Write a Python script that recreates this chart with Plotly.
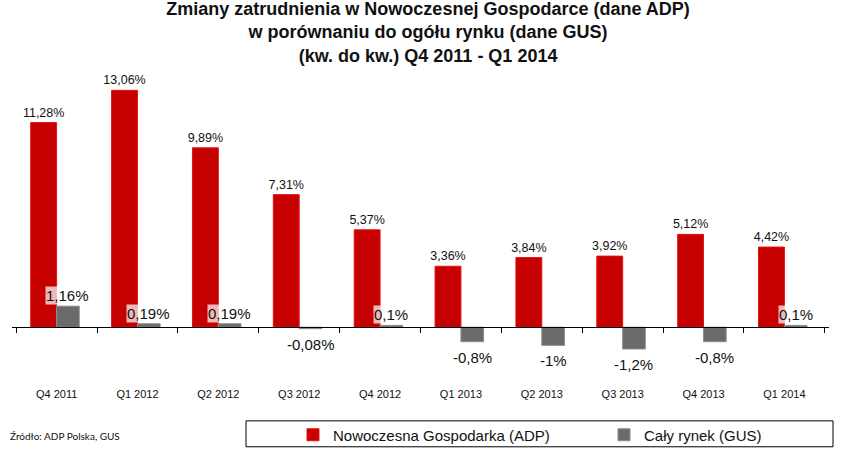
import plotly.graph_objects as go

categories = ["Q4 2011", "Q1 2012", "Q2 2012", "Q3 2012", "Q4 2012",
              "Q1 2013", "Q2 2013", "Q3 2013", "Q4 2013", "Q1 2014"]
adp_values = [11.28, 13.06, 9.89, 7.31, 5.37, 3.36, 3.84, 3.92, 5.12, 4.42]
adp_labels = ["11,28%", "13,06%", "9,89%", "7,31%", "5,37%", "3,36%", "3,84%", "3,92%", "5,12%", "4,42%"]
gus_values = [1.16, 0.19, 0.19, -0.08, 0.1, -0.8, -1.0, -1.2, -0.8, 0.1]
gus_labels = ["1,16%", "0,19%", "0,19%", "-0,08%", "0,1%", "-0,8%", "-1%", "-1,2%", "-0,8%", "0,1%"]

title_text = ("Zmiany zatrudnienia w Nowoczesnej Gospodarce (dane ADP)<br>"
              "w porównaniu do ogółu rynku (dane GUS)<br>"
              "(kw. do kw.) Q4 2011 - Q1 2014")
source_text = "Źródło: ADP Polska, GUS"
series_names = ["Nowoczesna Gospodarka (ADP)", "Cały rynek (GUS)"]

YMIN, YMAX = -3.02, 13.63
RED_W, GREY_W = 0.32, 0.28
L, T, PW, PH = 12, 80, 817, 303   # plot area in pixels

fig = go.Figure()

fig.add_trace(go.Bar(
    x=categories, y=adp_values, name=series_names[0], legend="legend",
    width=RED_W, offset=-RED_W,
    marker=dict(color="#C60000", line=dict(color="#E81010", width=1)),
    text=adp_labels, textposition="outside", cliponaxis=False,
    textangle=0, constraintext="none",
    textfont=dict(family="Liberation Sans, Arial", size=12.5, color="#111111"),
))
fig.add_trace(go.Bar(
    x=categories, y=gus_values, name=series_names[1], legend="legend2",
    width=GREY_W, offset=0,
    marker=dict(color="#6A6A6A", line=dict(color="#8C8C8C", width=1)),
    cliponaxis=False,
))
# helper trace so the zero-line axis knows the categories
fig.add_trace(go.Scatter(
    x=categories, y=[0] * len(categories), xaxis="x2", mode="markers",
    marker=dict(opacity=0), showlegend=False, hoverinfo="skip",
))

annotations = []
for i, (v, lab) in enumerate(zip(gus_values, gus_labels)):
    annotations.append(dict(
        x=i + GREY_W / 2, y=v, xref="x", yref="y", text=lab, showarrow=False,
        yanchor="bottom" if v >= 0 else "top", yshift=1 if v >= 0 else -6,
        font=dict(family="Liberation Sans, Arial", size=15, color="#111111"),
        bgcolor="rgba(255,255,255,0.72)", borderpad=0,
    ))
annotations.append(dict(
    x=(8 - L) / PW, y=(T + PH - 437) / PH, xref="paper", yref="paper",
    text=source_text, showarrow=False, xanchor="left", yanchor="middle",
    font=dict(family="Lato, Liberation Sans", size=10, color="#111111"),
))

zero_pos = (0 - YMIN) / (YMAX - YMIN)
legend_font = dict(family="Liberation Sans, Arial", size=15, color="#111111")
legend_y = (T + PH - 435) / PH

fig.update_layout(
    width=851, height=462,
    margin=dict(l=L, r=851 - L - PW, t=T, b=462 - T - PH),
    paper_bgcolor="white", plot_bgcolor="white",
    title=dict(text=title_text, x=0.503, xref="container", xanchor="center",
               y=0.968, yref="container", yanchor="top",
               font=dict(family="Liberation Sans Narrow, Arial Narrow, Liberation Sans",
                         size=18, color="#111111", weight="bold")),
    xaxis=dict(type="category", categoryarray=categories, showline=False,
               ticks="", showgrid=False, zeroline=False,
               tickfont=dict(family="Liberation Sans, Arial", size=11, color="#111111"),
               ticklabelstandoff=4),
    xaxis2=dict(type="category", categoryarray=categories, overlaying="x", matches="x",
                anchor="free", position=zero_pos, showline=True, linecolor="black",
                linewidth=1, ticks="outside", ticklen=5, tickcolor="black",
                tickson="boundaries", showticklabels=False, showgrid=False,
                zeroline=False),
    yaxis=dict(range=[YMIN, YMAX], visible=False, showgrid=False, zeroline=False),
    barmode="overlay",
    showlegend=True,
    legend=dict(orientation="h", x=(293 - L) / PW, y=legend_y,
                xanchor="left", yanchor="middle", font=legend_font,
                itemwidth=30, bgcolor="rgba(0,0,0,0)"),
    legend2=dict(orientation="h", x=(604 - L) / PW, y=legend_y,
                 xanchor="left", yanchor="middle", font=legend_font,
                 itemwidth=30, bgcolor="rgba(0,0,0,0)"),
    annotations=annotations,
    shapes=[dict(type="rect", xref="paper", yref="paper",
                 x0=(246 - L) / PW, x1=(833 - L) / PW,
                 y0=(T + PH - 448) / PH, y1=(T + PH - 422) / PH,
                 line=dict(color="black", width=1), fillcolor="rgba(0,0,0,0)")],
)

fig.write_html("out.html")
